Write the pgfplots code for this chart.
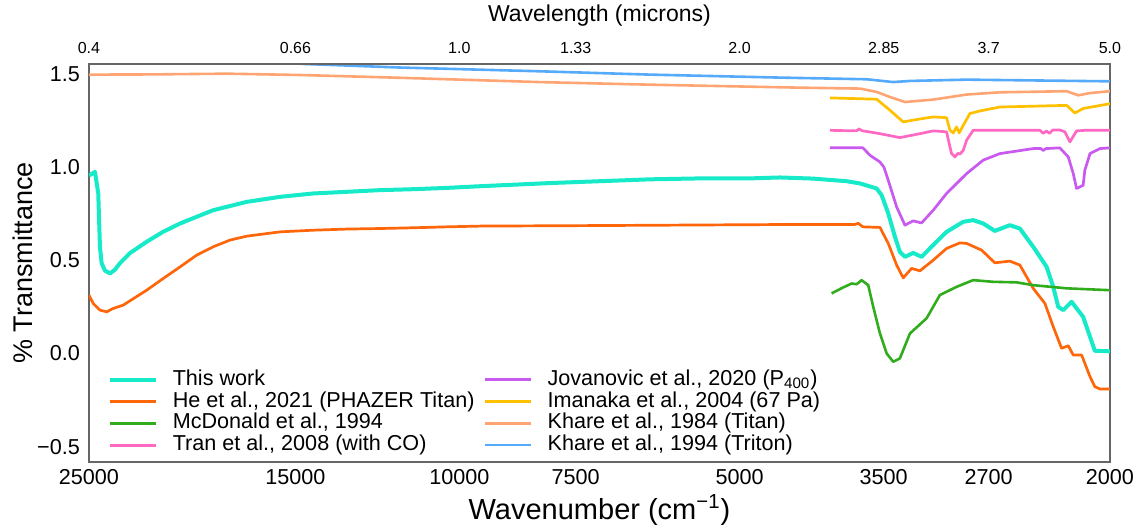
\documentclass[border=0pt]{standalone}
\usepackage{fontspec}
\setmainfont{Liberation Sans}
\usepackage{pgfplots}
\pgfplotsset{compat=1.18}
\definecolor{cThis}{RGB}{22,234,200}
\definecolor{cHe}{RGB}{255,102,10}
\definecolor{cMcD}{RGB}{48,172,28}
\definecolor{cTran}{RGB}{255,105,195}
\definecolor{cJov}{RGB}{200,90,240}
\definecolor{cIma}{RGB}{255,192,0}
\definecolor{cKa}{RGB}{255,165,115}
\definecolor{cKb}{RGB}{85,170,250}
\begin{document}
\begin{tikzpicture}
\useasboundingbox (-44.5pt,-33.5pt) rectangle (528.5pt,231pt);
\begin{axis}[
  scale only axis, width=510.5pt, height=199pt,
  xmode=log, x dir=reverse, xmin=2000, xmax=25000,
  ymin=-0.582, ymax=1.554,
  xtick={25000,15000,10000,7500,5000,3500,2700,2000},
  major tick length=0pt, minor tick length=0pt,
  axis line style={black!60, line width=0.6pt},
  xticklabels={25000,15000,10000,7500,5000,3500,2700,2000},
  ytick={-0.5,0,0.5,1,1.5},
  yticklabels={−0.5,0.0,0.5,1.0,1.5},
  tick label style={font=\fontsize{10.8}{12}\selectfont},
  xticklabel style={yshift=0pt},
  yticklabel style={xshift=-1pt},
  xlabel={Wavenumber (cm\textsuperscript{−1})},
  xlabel style={font=\fontsize{14.5}{16}\selectfont, at={(axis description cs:0.5,-0.121)}, anchor=center},
  ylabel={\% Transmittance},
  ylabel style={font=\fontsize{13.5}{15}\selectfont, at={(axis description cs:-0.0646,0.5)}, anchor=center},
  clip=true,
  legend columns=4, transpose legend,
  legend cell align=left,
  legend style={draw=none, fill=none, at={(axis description cs:0.012,0.245)}, anchor=north west,
    font=\fontsize{10.8}{12}\selectfont,
    nodes={inner sep=0.6pt, text height=7.6pt, text depth=2.1pt},
    /tikz/every even column/.append style={column sep=4pt},
    /tikz/every odd column/.append style={column sep=7pt},
  },
  legend image code/.code={\draw[#1] (0pt,0pt) -- (23pt,0pt);},
]
\addplot[cThis, line width=2pt, line join=round] coordinates {
(25000,0.955)(24632,0.975)(24431,0.86)(24329,0.573)(24227,0.485)(24030,0.445)(23734,0.43)(23443,0.45)(23154,0.485)(22589,0.539)(21675,0.6)(20818,0.653)(19961,0.698)(18396,0.769)(16925,0.814)(15586,0.841)(14364,0.859)(13216,0.868)(12170,0.877)(11217,0.882)(10319,0.889)(9503,0.898)(7992,0.915)(7062,0.925)(6241,0.935)(5515,0.94)(4873,0.94)(4525,0.945)(4170,0.939)(3837,0.925)(3712,0.913)(3562,0.886)(3518,0.85)(3461,0.752)(3404,0.626)(3363,0.546)(3321,0.519)(3254,0.54)(3187,0.519)(3097,0.582)(2996,0.653)(2875,0.707)(2805,0.716)(2736,0.698)(2659,0.658)(2562,0.689)(2499,0.671)(2418,0.573)(2339,0.465)(2301,0.358)(2273,0.251)(2245,0.233)(2199,0.278)(2137,0.197)(2101,0.09)(2076,0.015)(2000,0.012)
};
\addlegendentry{This work}
\addplot[cHe, line width=1.35pt, line join=round] coordinates {
(25000,0.314)(24736,0.269)(24329,0.233)(23929,0.224)(23541,0.242)(22966,0.26)(21675,0.34)(20803,0.403)(19961,0.465)(19153,0.528)(18382,0.573)(17638,0.609)(16925,0.63)(15586,0.653)(14364,0.662)(13216,0.668)(12170,0.671)(11217,0.675)(10319,0.68)(9503,0.684)(7062,0.687)(4305,0.693)(3759,0.693)(3728,0.699)(3685,0.68)(3533,0.677)(3461,0.591)(3390,0.475)(3335,0.406)(3267,0.457)(3200,0.444)(3097,0.501)(2996,0.564)(2899,0.594)(2851,0.591)(2747,0.555)(2659,0.487)(2562,0.496)(2499,0.475)(2418,0.35)(2349,0.269)(2301,0.144)(2254,0.028)(2217,0.042)(2190,-0.008)(2145,-0.008)(2101,-0.124)(2076,-0.178)(2050,-0.19)(2000,-0.19)
};
\addlegendentry{He et al., 2021 (PHAZER Titan)}
\addplot[cMcD, line width=1.3pt, line join=round] coordinates {
(3982,0.323)(3869,0.355)(3789,0.376)(3743,0.372)(3697,0.394)(3637,0.367)(3592,0.251)(3533,0.108)(3475,0.001)(3419,-0.044)(3363,-0.026)(3280,0.108)(3148,0.189)(3046,0.314)(2923,0.358)(2805,0.394)(2670,0.385)(2519,0.382)(2418,0.367)(2226,0.35)(2000,0.34)
};
\addlegendentry{McDonald et al., 1994}
\addplot[cTran, line width=1.35pt, line join=round] coordinates {
(3998,1.198)(3743,1.195)(3722,1.206)(3694,1.196)(3533,1.18)(3363,1.159)(3200,1.18)(3097,1.195)(2996,1.19)(2971,1.109)(2959,1.073)(2935,1.055)(2913,1.075)(2899,1.07)(2875,1.09)(2851,1.145)(2805,1.198)(2378,1.198)(2359,1.182)(2340,1.194)(2323,1.182)(2303,1.2)(2264,1.2)(2236,1.19)(2208,1.136)(2172,1.195)(2128,1.198)(2000,1.198)
};
\addlegendentry{Tran et al., 2008 (with CO)}
\addplot[cJov, line width=1.35pt, line join=round] coordinates {
(3998,1.104)(3685,1.104)(3621,1.064)(3533,1.028)(3498,1.0)(3461,0.93)(3390,0.787)(3321,0.689)(3254,0.712)(3187,0.701)(3097,0.769)(2996,0.859)(2899,0.93)(2851,0.966)(2736,1.038)(2626,1.073)(2418,1.1)(2372,1.1)(2359,1.09)(2343,1.1)(2264,1.104)(2217,1.055)(2190,0.966)(2172,0.886)(2137,0.903)(2128,0.984)(2101,1.073)(2050,1.1)(2000,1.104)
};
\addlegendentry{Jovanovic et al., 2020 (P\textsubscript{400})}
\addplot[cIma, line width=1.35pt, line join=round] coordinates {
(3998,1.372)(3562,1.365)(3447,1.306)(3335,1.243)(3227,1.256)(3097,1.27)(2996,1.266)(2971,1.198)(2947,1.184)(2923,1.216)(2904,1.184)(2875,1.225)(2828,1.288)(2759,1.302)(2626,1.323)(2226,1.332)(2181,1.291)(2137,1.315)(2000,1.341)
};
\addlegendentry{Imanaka et al., 2004 (67 Pa)}
\addplot[cKa, line width=1.3pt, line join=round] coordinates {
(25000,1.497)(21498,1.498)(17770,1.502)(14834,1.495)(11583,1.48)(8212,1.457)(6241,1.443)(4305,1.427)(3712,1.422)(3562,1.404)(3447,1.377)(3321,1.35)(3097,1.363)(2851,1.39)(2626,1.402)(2226,1.408)(2163,1.386)(2101,1.398)(2000,1.408)
};
\addlegendentry{Khare et al., 1984 (Titan)}
\addplot[cKb, line width=1.3pt, line join=round] coordinates {
(21498,1.6)(16787,1.575)(14651,1.554)(11583,1.535)(8212,1.515)(6241,1.497)(4525,1.481)(3651,1.472)(3419,1.457)(3280,1.463)(2851,1.47)(2000,1.461)
};
\addlegendentry{Khare et al., 1994 (Triton)}
\end{axis}
\begin{axis}[
  scale only axis, width=510.5pt, height=199pt,
  xmode=log, x dir=reverse, xmin=2000, xmax=25000,
  ymin=-0.582, ymax=1.554,
  xtick={25000,15000,10000,7500,5000,3500,2700,2000},
  major tick length=0pt, minor tick length=0pt,
  axis line style={black!60, line width=0.6pt},
  axis x line*=top, axis y line=none,
  xticklabels={0.4,0.66,1.0,1.33,2.0,2.85,3.7,5.0},
  xticklabel style={font=\fontsize{8}{9}\selectfont, yshift=1.5pt},
  xlabel={Wavelength (microns)},
  xlabel style={font=\fontsize{11.5}{13}\selectfont, yshift=1.5pt},
]
\end{axis}
\end{tikzpicture}
\end{document}
